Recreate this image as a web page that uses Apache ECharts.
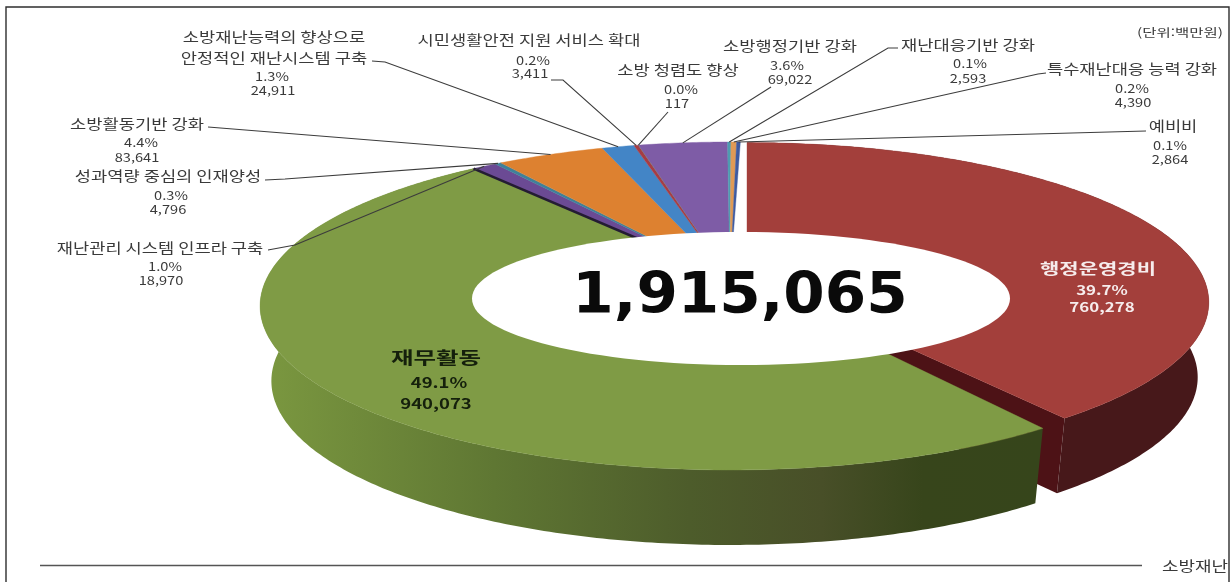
<!DOCTYPE html>
<html lang="ko">
<head>
<meta charset="utf-8">
<title>소방재난 예산</title>
<style>html,body{margin:0;padding:0;background:#fff;overflow:hidden}#chart{width:1231px;height:582px;filter:blur(0.5px)}</style>
<script src="https://cdn.jsdelivr.net/npm/echarts@6/dist/echarts.min.js"></script>
</head>
<body>
<div id="chart"></div>
<script>
// ---- data ----
const sliceNames = ['행정운영경비','재무활동','재난관리 시스템 인프라 구축','성과역량 중심의 인재양성','소방활동기반 강화','소방재난능력의 향상으로\n안정적인 재난시스템 구축','시민생활안전 지원 서비스 확대','소방 청렴도 향상','소방행정기반 강화','재난대응기반 강화','특수재난대응 능력 강화','예비비'];
const sliceValues = [760278,940073,18970,4796,83641,24911,3411,117,69022,2593,4390,2864];
const slicePercents = ['39.7%','49.1%','1.0%','0.3%','4.4%','1.3%','0.2%','0.0%','3.6%','0.1%','0.2%','0.1%'];
const totalValue = 1915065;
const unitText = '(단위:백만원)';
const footerText = '소방재난';

// ---- styles ----
const topColors = ['#a33f3b','#7f9b45','#6b4a94','#3f8199','#dd8130','#4385c6','#a63c45','#7f9a46','#7e5ca6','#4e9bb0','#e09a55','#3e5aa0'];
const FONT = '"Noto Sans CJK KR","Noto Sans",sans-serif';

// ---- layout: projection of the ring, and where each label sits ----
const ringMain = {cx:730, cy:278, C:463, A:159.2, k:0.1707, rot:1.5};
const ringExploded = {cx:747, cy:275, C:455, A:155, k:0.1707, rot:0};
const DEPTH = 75, BOTTOM_SCALE = 0.976;
const hole = {cx:741, cy:298.5, rx:269, ry:66.5};
// name row centres [x,y], percent row, value row, elbow of leader line
const labelLayout = [
  {name:[[1098,268]], pct:[1102,290], val:[1102,307], color:'#f6ecec', bold:true, nameFs:15, nameSx:1.4, fs:13, sx:1.3},
  {name:[[436,358]], pct:[439,383], val:[436,404], color:'#15200c', bold:true, nameFs:17, nameSx:1.44, fs:14, sx:1.32},
  {name:[[160,248]], pct:[165,266], val:[161,280], leader:[[268,250],[295,245]]},
  {name:[[168,176]], pct:[171,195], val:[168,209], leader:[[265,180],[285,179]]},
  {name:[[137,124]], pct:[141,142], val:[137,157], leader:[[208,127]]},
  {name:[[274,37],[274,58]], pct:[272,76], val:[273,90], leader:[[372,61],[385,62]]},
  {name:[[529,40]], pct:[533,60], val:[530,73], leader:[[551,80],[563,80]]},
  {name:[[678,70]], pct:[681,89], val:[677,103], leader:[[668,112]]},
  {name:[[790,46]], pct:[787,65], val:[790,79], leader:[[771,87]]},
  {name:[[968,45]], pct:[970,63], val:[968,78], leader:[[898,48],[888,48]]},
  {name:[[1132,69]], pct:[1132,88], val:[1133,102], leader:[[1046,73],[1038,74]]},
  {name:[[1173,126]], pct:[1170,145], val:[1170,159], leader:[[1146,131]]}
];

const sumValues = sliceValues.reduce((a, b) => a + b, 0);
const cumulative = [];
sliceValues.reduce((acc, v, i) => { cumulative[i] = acc; return acc + v; }, 0);

function project(ring, deg) {
  const r = (deg + ring.rot) * Math.PI / 180;
  const u = Math.sin(r), v = -Math.cos(r), w = 1 - ring.k * v;
  return [ring.cx + ring.C * u / w, ring.cy + ring.A * v / w];
}
function arcPoints(ring, a0, a1) {
  const n = Math.max(2, Math.ceil(Math.abs(a1 - a0) * 1.5));
  const pts = [];
  for (let i = 0; i <= n; i++) pts.push(project(ring, a0 + (a1 - a0) * i / n));
  return pts;
}
function lower(ring, p) {
  return [ring.cx + (p[0] - ring.cx) * BOTTOM_SCALE, p[1] + DEPTH];
}
function textEl(text, x, y, fs, sx, color, bold) {
  return {type:'text', x, y, scaleX:sx, z2:30, silent:true,
    style:{x:0, y:0, text, fill:color, textAlign:'center', textVerticalAlign:'middle',
      font:(bold ? 'bold ' : '') + fs + 'px ' + FONT}};
}
const wallGreen = {type:'linear', global:true, x:260, y:0, x2:1040, y2:0, colorStops:[
  {offset:0,color:'#7b9840'},{offset:0.3,color:'#5f7733'},{offset:0.55,color:'#4d5c2b'},{offset:0.72,color:'#484f28'},{offset:0.85,color:'#37451b'},{offset:1,color:'#36451b'}]};

function renderSlice(params, api) {
  const i = api.value(0), value = api.value(1);
  const a0 = cumulative[i] / sumValues * 360, a1 = a0 + value / sumValues * 360;
  const ring = i === 0 ? ringExploded : ringMain;
  const centre = [ring.cx, ring.cy];
  const arc = arcPoints(ring, a0, a1);
  const children = [];
  if (i < 2) {
    const wallFill = i === 0 ? '#47181a' : wallGreen;
    const low = arc.map(p => lower(ring, p)).reverse();
    children.push({type:'polygon', z2:i === 0 ? 2 : 4, shape:{points:arc.concat(low)}, style:{fill:wallFill}});
  }
  if (i === 0) {
    const corner = arc[arc.length - 1];
    children.push({type:'polygon', z2:1, shape:{points:[centre, corner, lower(ring, corner), lower(ring, centre)]}, style:{fill:'#4d1216'}});
  }
  children.push({type:'polygon', z2:i === 0 ? 8 : 6, shape:{points:[centre].concat(arc)},
    style:{fill:topColors[i], stroke:topColors[i], lineWidth:0.4}});
  if (i === 1) {
    children.push({type:'polyline', z2:7, shape:{points:[centre, arc[arc.length - 1]]},
      style:{stroke:'#241c33', lineWidth:2.6, fill:null}});
  }
  const lay = labelLayout[i];
  const color = lay.color || '#3a3a3a';
  const fs = lay.fs || 12, sx = lay.sx || 1.22;
  sliceNames[i].split('\n').forEach((line, n) => {
    children.push(textEl(line, lay.name[n][0], lay.name[n][1], lay.nameFs || 14, lay.nameSx || 1.26, color, lay.bold));
  });
  children.push(textEl(slicePercents[i], lay.pct[0], lay.pct[1], fs, sx, color, lay.bold));
  children.push(textEl(api.value(1).toLocaleString('en-US'), lay.val[0], lay.val[1], fs, sx, color, lay.bold));
  if (lay.leader) {
    const end = project(ring, (a0 + a1) / 2);
    children.push({type:'polyline', z2:9, shape:{points:lay.leader.concat([end])},
      style:{stroke:'#3c3c3c', lineWidth:1.1, fill:null}});
  }
  return {type:'group', children};
}
function renderHole(params, api) {
  return {type:'group', children:[
    {type:'ellipse', z2:20, shape:hole, style:{fill:'#fff'}},
    {type:'text', x:740, y:298, z2:31, scaleX:1.045, style:{x:0, y:0, text:api.value(0).toLocaleString('en-US'),
      fill:'#0a0a0a', textAlign:'center', textVerticalAlign:'middle', font:'bold 57px "DejaVu Sans",sans-serif'}}
  ]};
}

const chart = echarts.init(document.getElementById('chart'), null, {renderer:'canvas'});
chart.setOption({
  animation:false,
  backgroundColor:'#fff',
  graphic:[
    {type:'rect', silent:true, shape:{x:6, y:7, width:1223, height:600}, style:{fill:null, stroke:'#2e2e2e', lineWidth:1.4}},
    {type:'line', silent:true, shape:{x1:40, y1:565.5, x2:1142, y2:565.5}, style:{stroke:'#555', lineWidth:1.4}},
    {type:'text', silent:true, x:1195, y:566, scaleX:1.28, style:{x:0, y:0, text:footerText, fill:'#3a3a3a', textAlign:'center', textVerticalAlign:'middle', font:'14px ' + FONT}},
    {type:'text', silent:true, x:1180, y:33, scaleX:1.35, style:{x:0, y:0, text:unitText, fill:'#3a3a3a', textAlign:'center', textVerticalAlign:'middle', font:'11.5px ' + FONT}}
  ],
  series:[
    {type:'custom', coordinateSystem:'none', z:2, silent:true, renderItem:renderSlice,
      data:sliceValues.map((v, i) => [i, v])},
    {type:'custom', coordinateSystem:'none', z:3, silent:true, renderItem:renderHole,
      data:[[totalValue]]}
  ]
});
</script>
</body>
</html>
